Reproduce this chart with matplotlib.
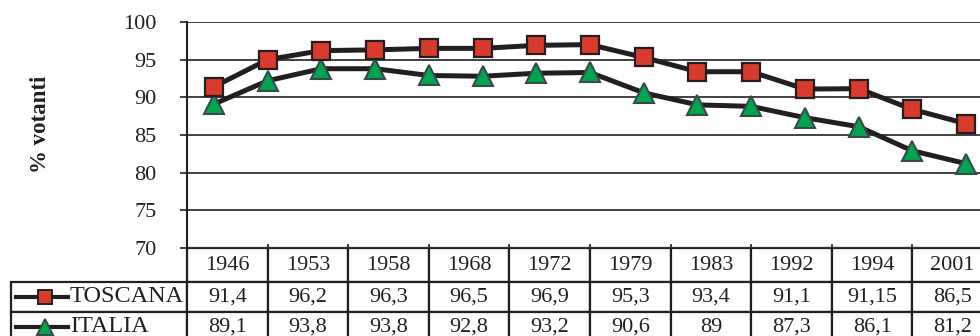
import matplotlib
matplotlib.use("Agg")
import matplotlib.pyplot as plt

plt.rcParams['font.family'] = ['Liberation Serif', 'DejaVu Serif']

# turnout at every general election (plotted series)
years = [1946, 1948, 1953, 1958, 1963, 1968, 1972, 1976, 1979, 1983, 1987, 1992, 1994, 1996, 2001]
toscana = [91.4, 95.0, 96.2, 96.3, 96.5, 96.5, 96.9, 97.0, 95.3, 93.4, 93.4, 91.1, 91.15, 88.4, 86.5]
italia = [89.1, 92.2, 93.8, 93.8, 92.9, 92.8, 93.2, 93.3, 90.6, 89.0, 88.8, 87.3, 86.1, 82.9, 81.2]

# years listed in the data table under the chart
table_years = [1946, 1953, 1958, 1968, 1972, 1979, 1983, 1992, 1994, 2001]
series_names = ['TOSCANA', 'ITALIA']

ink = '#231f20'
red = '#d83a2c'
green = '#00a64f'

W, H = 980, 336
fig = plt.figure(figsize=(W / 100, H / 100), dpi=100)

# plot area in pixels: x 187..993, y 22..248
ax_l, ax_r, ax_t, ax_b = 187, 993, 22, 248
ax = fig.add_axes([ax_l / W, 1 - ax_b / H, (ax_r - ax_l) / W, (ax_b - ax_t) / H])

x = list(range(len(years)))
ax.plot(x, toscana, color=ink, lw=3.6, marker='s', ms=12.5, mfc=red, mec=ink, mew=1.6, zorder=4)
ax.plot(x, italia, color=ink, lw=3.6, marker='^', ms=14, mfc=green, mec='#3b4848', mew=1.5, zorder=3)

ax.set_xlim(-0.5, len(years) - 0.5)
ax.set_ylim(70, 100)
ax.set_yticks(range(70, 101, 5))
ax.yaxis.grid(True, color='#333333', lw=1.3)
ax.set_axisbelow(True)
for s in ['top', 'right', 'bottom']:
    ax.spines[s].set_visible(False)
ax.spines['left'].set_color(ink)
ax.spines['left'].set_linewidth(1.5)
ax.tick_params(axis='y', direction='out', length=5, width=1.2, color=ink, pad=17,
               labelsize=16, labelcolor=ink)
# small marks at the table column boundaries
step = len(years) / len(table_years)
ax.set_xticks([-0.5 + step * k for k in range(1, len(table_years))])
ax.tick_params(axis='x', direction='in', length=3, width=1.2, color=ink, labelbottom=False)

fig.text(40 / W, 1 - 124 / H, '% votanti', rotation=90, fontsize=16.5, fontweight='bold',
         ha='center', va='center', color=ink)


def fmt(v):
    return f'{v:g}'.replace('.', ',')


tos_row = [fmt(toscana[years.index(y)]) for y in table_years]
ita_row = [fmt(italia[years.index(y)]) for y in table_years]

# data table under the plot; bbox covers the data columns only,
# the row label column hangs off to the left of it
aw, ah = ax_r - ax_l, ax_b - ax_t
label_w = (ax_l - 11) / aw
tab_h = 94 / ah
col_w = 1 / len(table_years)
tbl = ax.table(cellText=[tos_row, ita_row],
               colLabels=[str(y) for y in table_years],
               colWidths=[col_w] * len(table_years), cellLoc='center',
               bbox=[0, -tab_h, 1, tab_h])
for r in (1, 2):
    tbl.add_cell(r, -1, width=label_w, height=30, text='')
tbl.auto_set_font_size(False)
tbl.set_fontsize(16)
for (r, c), cell in tbl.get_celld().items():
    cell.set_edgecolor(ink)
    cell.set_linewidth(1.6)
    cell.set_height(34 if r == 0 else 30)
    cell.get_text().set_color(ink)
    cell.set_clip_on(False)

# legend keys and names inside the row label cells
for name, yp, mk, fc, ec, ms in [(series_names[0], 297, 's', red, ink, 10.5),
                                 (series_names[1], 327, '^', green, '#3b4848', 12)]:
    ya = (ax_b - yp) / ah
    ax.plot([(16 - ax_l) / aw, (68 - ax_l) / aw], [ya, ya], transform=ax.transAxes,
            color=ink, lw=3, clip_on=False, zorder=5)
    ax.plot([(45 - ax_l) / aw], [ya], transform=ax.transAxes, marker=mk, ms=ms,
            mfc=fc, mec=ec, mew=1.4, clip_on=False, zorder=6)
    ax.text((70 - ax_l) / aw, ya, name, transform=ax.transAxes, fontsize=17.5,
            ha='left', va='center', color=ink)

fig.savefig('out.png', dpi=100)
